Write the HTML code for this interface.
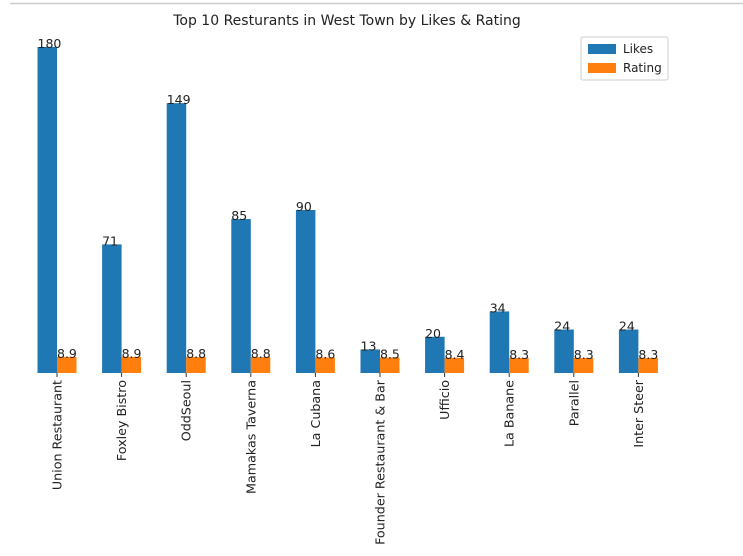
<!DOCTYPE html>
<html><head><meta charset="utf-8"><style>
body{margin:0;background:#fff;width:743px;height:552px;overflow:hidden;font-family:"DejaVu Sans","Liberation Sans",sans-serif}
</style></head><body>
<svg width="743" height="552" xmlns="http://www.w3.org/2000/svg" font-family="DejaVu Sans, Liberation Sans, sans-serif">
<line x1="10" y1="3.5" x2="743" y2="3.5" stroke="#ccc" stroke-width="1.5"/>
<text x="347" y="25" font-size="14" text-anchor="middle" fill="#222">Top 10 Resturants in West Town by Likes &amp; Rating</text>
<g id="plot"></g>
<g>
<rect x="581" y="37" width="87" height="43" fill="#fff" stroke="#ccc" rx="2"/>
<rect x="588" y="44" width="28" height="10" fill="#1f77b4"/>
<text x="623" y="53" font-size="12" fill="#222">Likes</text>
<rect x="588" y="63" width="28" height="10" fill="#ff7f0e"/>
<text x="623" y="72" font-size="12" fill="#222">Rating</text>
</g>
</svg>
<script>
const categories=["Union Restaurant","Foxley Bistro","OddSeoul","Mamakas Taverna","La Cubana","Founder Restaurant & Bar","Ufficio","La Banane","Parallel","Inter Steer"];
const likes=[180,71,149,85,90,13,20,34,24,24];
const ratings=[8.9,8.9,8.8,8.8,8.6,8.5,8.4,8.3,8.3,8.3];
const ns="http://www.w3.org/2000/svg";
const g=document.getElementById('plot');
const base=373, perUnit=326/180, x0=57, step=64.6, bw=19.5;
const yS=v=>base-v*perUnit;
function mk(t,a){const e=document.createElementNS(ns,t);for(const k in a)e.setAttribute(k,a[k]);g.appendChild(e);return e;}
categories.forEach((c,i)=>{
  const cx=x0+i*step;
  const b=mk('rect',{x:cx-bw,y:yS(likes[i]),width:bw,height:base-yS(likes[i]),fill:'#1f77b4'});
  
  
  const r=mk('rect',{x:cx,y:yS(ratings[i]),width:bw,height:base-yS(ratings[i]),fill:'#ff7f0e'});
  
  
  const lt=mk('text',{x:cx-bw,y:yS(likes[i])+1,'font-size':12.5,fill:'#222'});lt.textContent=likes[i];
  
  
  const rt=mk('text',{x:cx,y:yS(ratings[i])+1,'font-size':12.5,fill:'#222'});rt.textContent=ratings[i];
  
  
  const tk=mk('line',{x1:cx,y1:base,x2:cx,y2:base+4,stroke:'#333'});
  
  
  const tl=mk('text',{x:0,y:0,'font-size':12.7,fill:'#222','text-anchor':'end',transform:`translate(${cx+4.5},${base+7}) rotate(-90)`});
  tl.textContent=c;
  
  
});
</script>
</body></html>
